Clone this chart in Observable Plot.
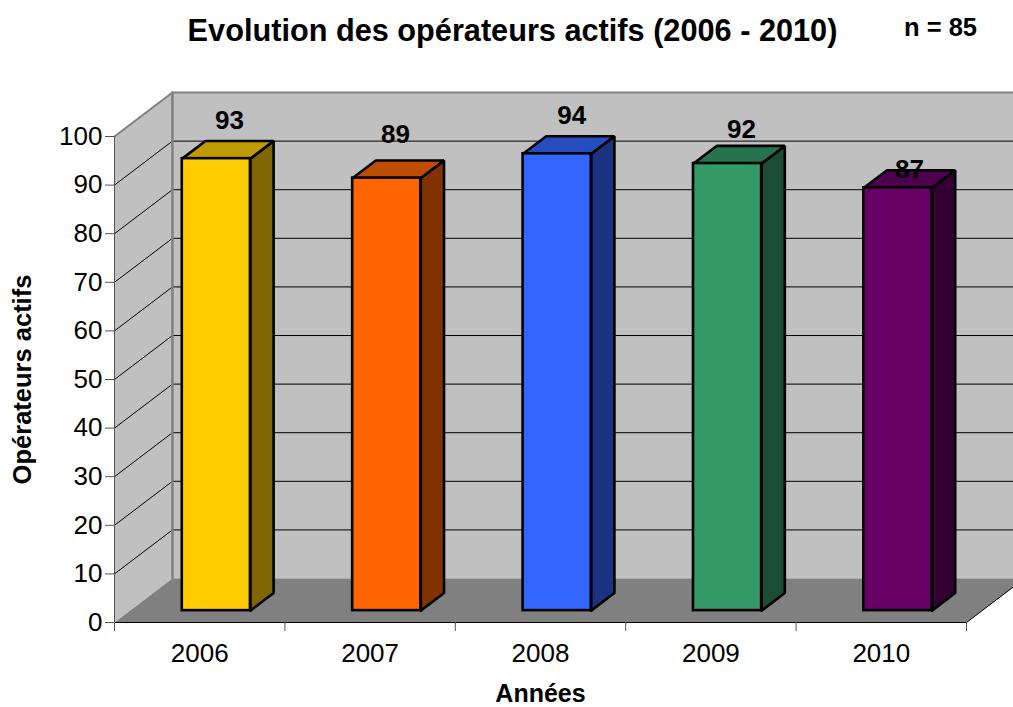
<!DOCTYPE html>
<html>
<head>
<meta charset="utf-8">
<script src="https://cdn.jsdelivr.net/npm/d3@7"></script>
<script src="https://cdn.jsdelivr.net/npm/@observablehq/plot@0.6"></script>
<style>
html,body{margin:0;padding:0;background:#fff;overflow:hidden}
svg{display:block}
</style>
</head>
<body>
<script>
const years = ["2006", "2007", "2008", "2009", "2010"];
const operators = [93, 89, 94, 92, 87];
const frontColors = ["#FFCC00", "#FF6600", "#3366FF", "#339966", "#660066"];
const topColors = ["#BF9900", "#BF4D00", "#264DBF", "#267350", "#4D004D"];
const sideColors = ["#806600", "#803300", "#1A3380", "#1A4D33", "#330033"];
const yTicks = [0, 10, 20, 30, 40, 50, 60, 70, 80, 90, 100];
const labelLift = [6, 7.2, 6.1, 5.2, 2];
const labelShift = [0.015, -0.011, 0.023, 0.02, 0.006];

// oblique projection of the 3-D box into the x (category) / y (value) scales
const DX = 0.34, DY = 9.05;
const P = (c, v, d = 0) => ({x: c + d * DX, y: v + d * DY});
const face = (id, fill, pts) => pts.map(([c, v, d]) => ({...P(c, v, d), id, fill}));

const walls = [
  ...face("left", "#C0C0C0", [[0,0,0],[0,100,0],[0,100,1],[0,0,1]]),
  ...face("back", "#C0C0C0", [[0,0,1],[5,0,1],[5,100,1],[0,100,1]]),
  ...face("floor", "#808080", [[0,0,0],[5,0,0],[5,0,1],[0,0,1]])
];
const grid = yTicks.filter(v => v > 0 && v < 100).flatMap(v => [
  {...P(0, v, 0), v}, {...P(0, v, 1), v}, {...P(5, v, 1), v}
]);
const wallEdge = [P(0,100,0), P(0,100,1), P(5,100,1)];
const corner = [P(0,0,1), P(0,100,1)];
const floorEdge = [P(5,0,0), P(5,0,1)];

const W = 0.4, D0 = 0.27, D1 = 0.67, C = 0.506;
const bars = years.map((year, i) => ({
  year, value: operators[i], x1: i + C - W / 2, x2: i + C + W / 2,
  front: frontColors[i], top: topColors[i], side: sideColors[i]
}));
const box = bars.flatMap((b, i) => [
  ...face("s" + i, b.side, [[b.x2,0,D0],[b.x2,0,D1],[b.x2,b.value,D1],[b.x2,b.value,D0],[b.x2,0,D0]]),
  ...face("t" + i, b.top, [[b.x1,b.value,D0],[b.x2,b.value,D0],[b.x2,b.value,D1],[b.x1,b.value,D1],[b.x1,b.value,D0]])
]);
const fronts = bars.map(b => {
  const a = P(b.x1, 0, D0), c = P(b.x2, b.value, D0);
  return {x1: a.x, x2: c.x, y1: a.y, y2: c.y, fill: b.front};
});
const labels = bars.map((b, i) => ({
  ...P(i + 0.5 + labelShift[i], b.value + labelLift[i], (D0 + D1) / 2),
  text: String(b.value)
}));

const FONT = "'Liberation Sans', Arial, sans-serif";
const chart = Plot.plot({
  width: 1013,
  height: 707,
  marginLeft: 114,
  marginRight: 47,
  marginTop: 136,
  marginBottom: 85,
  style: {background: "#fff", fontFamily: FONT, color: "#000"},
  color: {type: "identity"},
  x: {domain: [0, 5]},
  y: {domain: [0, 100]},
  marks: [
    Plot.line(walls, {x: "x", y: "y", z: "id", fill: "fill", stroke: "none"}),
    Plot.line(grid, {x: "x", y: "y", z: "v", stroke: "#000", strokeWidth: 1}),
    Plot.line(wallEdge, {x: "x", y: "y", stroke: "#808080", strokeWidth: 2}),
    Plot.line(corner, {x: "x", y: "y", stroke: "#808080", strokeWidth: 2.5}),
    Plot.line(floorEdge, {x: "x", y: "y", stroke: "#000", strokeWidth: 1}),
    Plot.ruleX([0], {y1: 0, y2: 100, stroke: "#555", strokeWidth: 1}),
    Plot.ruleY([0], {x1: 0, x2: 5, stroke: "#000", strokeWidth: 1}),
    Plot.axisY({ticks: yTicks, tickSize: 9, tickPadding: 3, fontSize: 26, stroke: "#555", color: "#000", label: null, anchor: "left"}),
    Plot.axisX({ticks: [0, 1, 2, 3, 4, 5], tickSize: 9, tickFormat: () => "", stroke: "#555", label: null}),
    Plot.axisX({ticks: years.map((_, i) => i + 0.5), tickSize: 0, tickPadding: 21, fontSize: 26, fill: "#000", tickFormat: t => years[Math.floor(t)], label: null}),
    Plot.line(box, {x: "x", y: "y", z: "id", fill: "fill", stroke: "#000", strokeWidth: 2.6, strokeLinejoin: "miter"}),
    Plot.rect(fronts, {x1: "x1", x2: "x2", y1: "y1", y2: "y2", fill: "fill", stroke: "#000", strokeWidth: 2.6}),
    Plot.text(labels, {x: "x", y: "y", text: "text", fontSize: 26, fontWeight: "bold", fill: "#000"}),
    Plot.text(["Evolution des opérateurs actifs (2006 - 2010)"], {frameAnchor: "top", lineAnchor: "middle", dx: -28, dy: -105, fontSize: 30.7, fontWeight: "bold", fill: "#000"}),
    Plot.text(["n = 85"], {frameAnchor: "top", lineAnchor: "middle", dx: 400, dy: -109, fontSize: 25.5, fontWeight: "bold", fill: "#000"}),
    Plot.text(["Années"], {frameAnchor: "bottom", lineAnchor: "middle", dy: 71.5, fontSize: 25, fontWeight: "bold", fill: "#000"}),
    Plot.text(["Opérateurs actifs"], {frameAnchor: "left", textAnchor: "middle", dx: -92, rotate: -90, fontSize: 25.5, fontWeight: "bold", fill: "#000"})
  ]
});
document.body.appendChild(chart);
</script>
</body>
</html>
